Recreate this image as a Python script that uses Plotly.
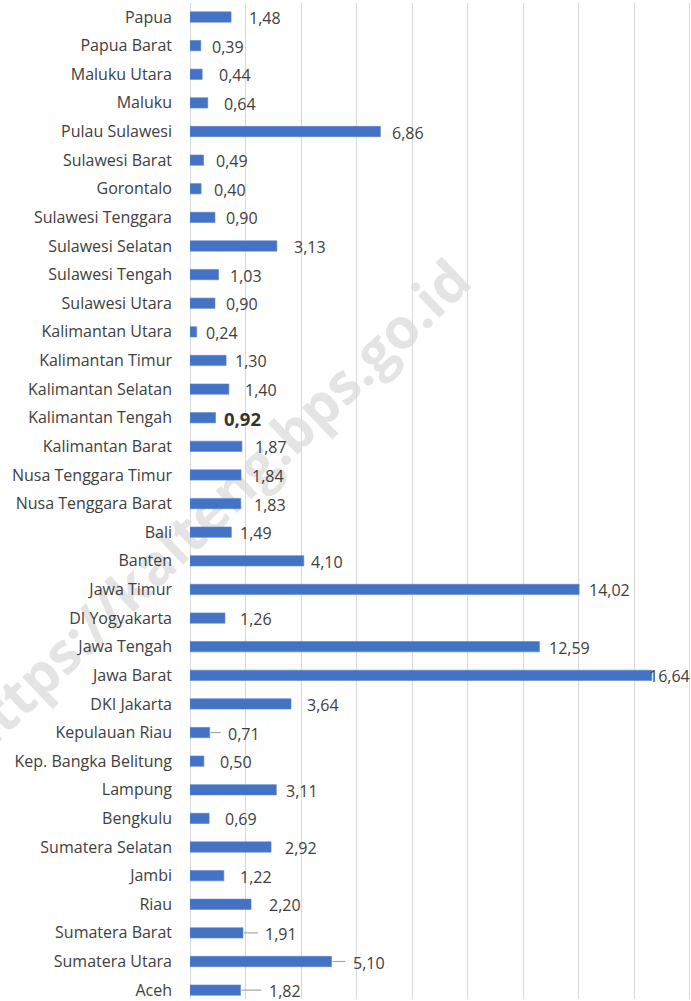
import plotly.graph_objects as go

# Provinces, listed bottom to top as drawn
provinces = [
    "Aceh", "Sumatera Utara", "Sumatera Barat", "Riau", "Jambi",
    "Sumatera Selatan", "Bengkulu", "Lampung", "Kep. Bangka Belitung",
    "Kepulauan Riau", "DKI Jakarta", "Jawa Barat", "Jawa Tengah",
    "DI Yogyakarta", "Jawa Timur", "Banten", "Bali", "Nusa Tenggara Barat",
    "Nusa Tenggara Timur", "Kalimantan Barat", "Kalimantan Tengah",
    "Kalimantan Selatan", "Kalimantan Timur", "Kalimantan Utara",
    "Sulawesi Utara", "Sulawesi Tengah", "Sulawesi Selatan",
    "Sulawesi Tenggara", "Gorontalo", "Sulawesi Barat", "Pulau Sulawesi",
    "Maluku", "Maluku Utara", "Papua Barat", "Papua",
]
values = [
    1.82, 5.10, 1.91, 2.20, 1.22,
    2.92, 0.69, 3.11, 0.50,
    0.71, 3.64, 16.64, 12.59,
    1.26, 14.02, 4.10, 1.49, 1.83,
    1.84, 1.87, 0.92,
    1.40, 1.30, 0.24,
    0.90, 1.03, 3.13,
    0.90, 0.40, 0.49, 6.86,
    0.64, 0.44, 0.39, 1.48,
]
highlight = "Kalimantan Tengah"

# Gap (px) between the end of a bar and its value label
label_gap = {
    "Aceh": 26, "Sumatera Utara": 19, "Sumatera Barat": 20, "Riau": 16,
    "Jambi": 14, "Sumatera Selatan": 12, "Bengkulu": 14, "Lampung": 8,
    "Kep. Bangka Belitung": 14, "Kepulauan Riau": 16, "DKI Jakarta": 14,
    "Jawa Barat": -5, "Jawa Tengah": 8, "DI Yogyakarta": 13, "Jawa Timur": 8,
    "Banten": 5, "Bali": 7, "Nusa Tenggara Barat": 11,
    "Nusa Tenggara Timur": 9, "Kalimantan Barat": 11, "Kalimantan Tengah": 6,
    "Kalimantan Selatan": 14, "Kalimantan Timur": 7, "Kalimantan Utara": 7,
    "Sulawesi Utara": 9, "Sulawesi Tengah": 9, "Sulawesi Selatan": 15,
    "Sulawesi Tenggara": 9, "Gorontalo": 11, "Sulawesi Barat": 10,
    "Pulau Sulawesi": 10, "Maluku": 14, "Maluku Utara": 15,
    "Papua Barat": 9, "Papua": 16,
}
# Labels joined to their bar by a short leader line
leader = {"Aceh", "Sumatera Utara", "Sumatera Barat", "Kepulauan Riau"}

FONT = "Open Sans"
TEXT = "#404040"
W, H = 691, 1001
L, T = 190, 3

fig = go.Figure(
    go.Bar(
        x=values,
        y=provinces,
        orientation="h",
        width=0.36,
        marker=dict(color="#4472C4", line=dict(color="#5B84CC", width=0.6)),
        hoverinfo="x+y",
    )
)

annotations = []
shapes = []
for name, v in zip(provinces, values):
    txt = f"{v:.2f}".replace(".", ",")
    bold = name == highlight
    gap = label_gap[name]
    annotations.append(dict(
        x=v, y=name, xref="x", yref="y",
        text=f"<b>{txt}</b>" if bold else txt,
        showarrow=False, xanchor="left", yanchor="middle",
        xshift=gap, yshift=-1,
        font=dict(family=FONT, size=18.5 if bold else 16, color="#333333" if bold else TEXT),
    ))
    if name in leader:
        shapes.append(dict(
            type="line", xref="x", yref="y", xsizemode="pixel",
            xanchor=v, x0=1, x1=gap - 5, y0=name, y1=name,
            line=dict(color="#A6A6A6", width=1.2),
        ))


def px_to_paper(px, py):
    return (px - L) / (W - L), 1 - (py - T) / (H - T)


# Site watermark behind the plot, written along an invisible diagonal line
wx0, wy0 = px_to_paper(70, 650)
wx1, wy1 = px_to_paper(358, 372)
shapes.append(dict(
    type="line", xref="paper", yref="paper", layer="below",
    x0=wx0, y0=wy0, x1=wx1, y1=wy1,
    line=dict(color="rgba(0,0,0,0)", width=0),
    label=dict(
        text="<b>https://kalteng.bps.go.id</b>",
        textposition="middle", yanchor="middle",
        font=dict(family=FONT, size=56, color="#E4E4E4"),
    ),
))

fig.update_layout(
    width=W, height=H,
    margin=dict(l=L, r=0, t=T, b=0),
    paper_bgcolor="white", plot_bgcolor="rgba(0,0,0,0)",
    showlegend=False,
    annotations=annotations,
    shapes=shapes,
    xaxis=dict(
        range=[0, 18.05], dtick=2, showgrid=True, gridcolor="#D9D9D9",
        gridwidth=1.3, showticklabels=False, zeroline=True,
        zerolinecolor="#D9D9D9", zerolinewidth=1.3, fixedrange=True,
    ),
    yaxis=dict(
        categoryorder="array", categoryarray=provinces,
        range=[-0.31, 34.49], showgrid=False, zeroline=False,
        ticks="", ticklabelstandoff=17,
        tickfont=dict(family=FONT, size=16, color=TEXT),
    ),
)

fig.write_html("out.html")
